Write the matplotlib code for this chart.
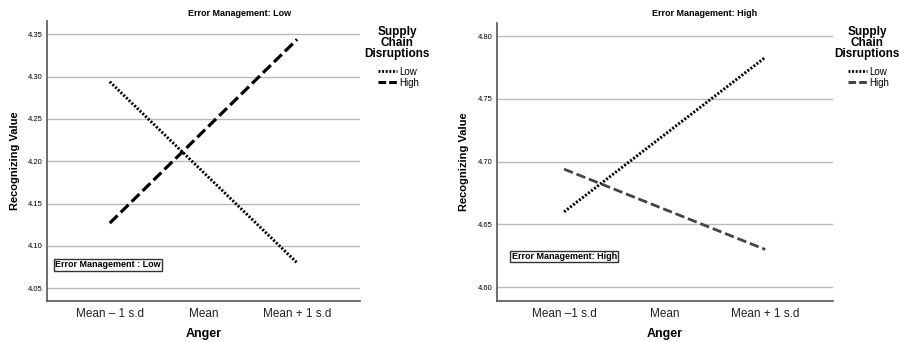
import matplotlib
matplotlib.use("Agg")
import matplotlib.pyplot as plt
from matplotlib.lines import Line2D

plt.rcParams['font.family'] = ['Liberation Sans', 'DejaVu Sans']

categories = ["Mean \u2013 1 s.d", "Mean", "Mean + 1 s.d"]
categories_right = ["Mean \u20131 s.d", "Mean", "Mean + 1 s.d"]

low_em_low_scd = [4.294, 4.187, 4.080]
low_em_high_scd = [4.127, 4.2355, 4.344]
high_em_low_scd = [4.660, 4.7215, 4.783]
high_em_high_scd = [4.694, 4.662, 4.630]

left_yticks = [4.05, 4.10, 4.15, 4.20, 4.25, 4.30, 4.35]
right_yticks = [4.60, 4.65, 4.70, 4.75, 4.80]

fig = plt.figure(figsize=(8.99, 3.42), dpi=100)

DOT = (0, (0.7, 0.6))
DASH = (0, (3.4, 1.4))

def setup(ax, yticks, ylim, xt):
    ax.set_xlim(-0.67, 2.67)
    ax.set_ylim(*ylim)
    ax.set_yticks(yticks)
    ax.set_yticklabels([f"{v:.2f}" for v in yticks], fontsize=5.5)
    ax.set_xticks([0, 1, 2])
    ax.set_xticklabels(xt, fontsize=8.5, color='#222222')
    ax.tick_params(length=0, pad=5)
    ax.tick_params(axis='y', pad=3)
    for s in ['top', 'right']:
        ax.spines[s].set_visible(False)
    for s in ['left', 'bottom']:
        ax.spines[s].set_color('#555555')
        ax.spines[s].set_linewidth(1.2)
    ax.yaxis.grid(True, color='#bbbbbb', linewidth=1.0)
    ax.set_axisbelow(True)
    ax.set_xlabel("Anger", fontsize=9, fontweight='bold', labelpad=6)
    ax.set_ylabel("Recognizing Value", fontsize=8, fontweight='bold', labelpad=6)

x = [0, 1, 2]

# Left panel
ax1 = fig.add_axes([0.0523, 0.1199, 0.348, 0.8187])
setup(ax1, left_yticks, (4.035, 4.3657), categories)
ax1.plot(x, low_em_low_scd, color='black', lw=2.1, linestyle=DOT)
ax1.plot(x, low_em_high_scd, color='black', lw=2.3, linestyle=DASH)
ax1.text(-0.585, 4.0776, "Error Management : Low", fontsize=6.5, fontweight='bold',
         va='center', ha='left',
         bbox=dict(boxstyle='square,pad=0.15', fc='white', ec='#333333', lw=1))
fig.text(240/899, 1 - 14/342, "Error Management: Low", fontsize=6.5, fontweight='bold',
         ha='center', va='center')

# Right panel
ax2 = fig.add_axes([0.5525, 0.1199, 0.3737, 0.8137])
setup(ax2, right_yticks, (4.589, 4.8106), categories_right)
ax2.plot(x, high_em_low_scd, color='black', lw=2.1, linestyle=DOT)
ax2.plot(x, high_em_high_scd, color='#444444', lw=2.0, linestyle=DASH)
ax2.text(-0.52, 4.6245, "Error Management: High", fontsize=6.5, fontweight='bold',
         va='center', ha='left',
         bbox=dict(boxstyle='square,pad=0.15', fc='white', ec='#333333', lw=1))
fig.text(705/899, 1 - 14/342, "Error Management: High", fontsize=6.5, fontweight='bold',
         ha='center', va='center')

# Legends
def legend(cx, high_color):
    fig.text(cx / 899, 1 - 43/342, "Supply\nChain\nDisruptions", fontsize=8.5,
             fontweight='bold', ha='center', va='center', linespacing=0.85)
    handles = [Line2D([], [], color='black', lw=2.0, linestyle=DOT),
               Line2D([], [], color=high_color, lw=2.2, linestyle=(0, (2.5, 1.0)))]
    leg = fig.legend(handles, ["Low", "High"], loc='upper left',
                     bbox_to_anchor=((cx - 24) / 899, 1 - 62/342),
                     frameon=False, fontsize=7, handlelength=2.0,
                     handletextpad=0.2, labelspacing=0.1, borderpad=0)
    return leg

legend(397, 'black')
legend(867, '#444444')

fig.savefig("out.png", dpi=100)
